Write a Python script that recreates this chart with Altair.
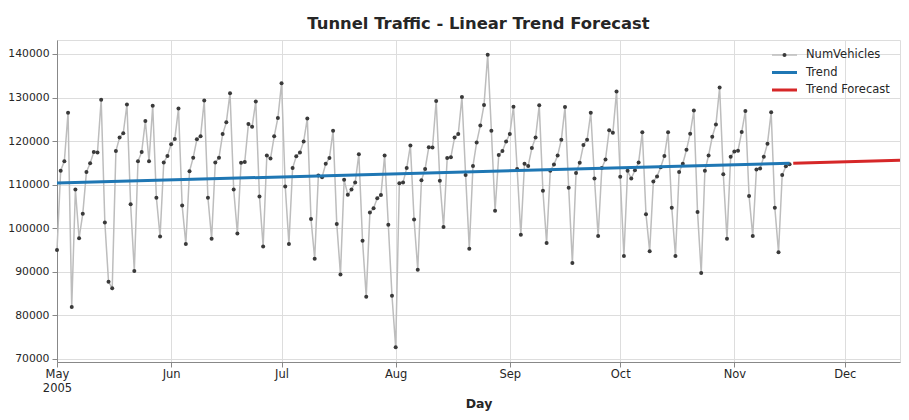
import altair as alt
import pandas as pd

# ---- data ----
start_date = "2005-05-01"
num_vehicles = [
    95000, 113200, 115400, 126500, 81900, 108900, 97700, 103300, 112900, 114900,
    117500, 117400, 129500, 101300, 87700, 86200, 117700, 120800, 121800, 128400,
    105500, 90200, 115400, 117500, 124600, 115400, 128100, 107000, 98100, 115100,
    116600, 119300, 120500, 127500, 105200, 96400, 113100, 116200, 120400, 121100,
    129300, 107000, 97600, 115100, 116200, 121600, 124300, 131000, 108900, 98800,
    115000, 115200, 123900, 123300, 129100, 107300, 95800, 116700, 116000, 121100,
    125300, 133300, 109600, 96400, 113800, 116500, 117400, 119900, 125200, 102100,
    93000, 112100, 111700, 114800, 116100, 122400, 101000, 89400, 111100, 107700,
    108900, 110500, 117000, 97100, 84300, 103600, 104600, 106900, 107600, 116700,
    100800, 84500, 72700, 110300, 110500, 113800, 119000, 102000, 90500, 111000,
    113600, 118600, 118500, 129200, 110900, 100300, 116100, 116300, 120800, 121600,
    130100, 112200, 95300, 114300, 119700, 123600, 128300, 139800, 122400, 104000,
    116800, 117700, 119900, 121600, 127900, 113600, 98500, 114800, 114300, 118400,
    120800, 128200, 108600, 96600, 113200, 114600, 116700, 120300, 127800, 109300,
    92000, 112700, 115000, 119100, 120300, 126500, 111400, 98200, 113800, 115800,
    122500, 121900, 131400, 111800, 93600, 113200, 111400, 113300, 115100, 122000,
    103200, 94700, 110700, 111900, 114000, 116600, 122000, 104700, 93600, 112900,
    114800, 118000, 121700, 127000, 103700, 89700, 113200, 116700, 121000, 123800,
    132300, 112400, 97600, 116400, 117600, 117800, 122100, 126900, 107400, 98200,
    113500, 113700, 116400, 119400, 126600, 104700, 94500, 112200, 114200, 114700,
]
trend_dates = ["2005-05-01", "2005-11-16"]
trend_values = [110400, 114900]
forecast_dates = ["2005-11-17", "2005-12-16"]
forecast_values = [114920, 115600]
month_ticks = [5, 6, 7, 8, 9, 10, 11, 12]
legend_labels = ["NumVehicles", "Trend", "Trend Forecast"]
legend_colors = ["#bdbdbd", "#1f77b4", "#d62728"]

days = pd.date_range(start_date, periods=len(num_vehicles), freq="D")
obs = pd.DataFrame({
    "Day": [d.strftime("%Y-%m-%dT00:00:00Z") for d in days],
    "value": num_vehicles,
})
trend = pd.DataFrame({"Day": [d + "T00:00:00Z" for d in trend_dates], "value": trend_values})
fc = pd.DataFrame({"Day": [d + "T00:00:00Z" for d in forecast_dates], "value": forecast_values})

xscale = alt.Scale(
    type="utc",
    domain=[alt.DateTime(year=2005, month=5, date=1, utc=True),
            alt.DateTime(year=2005, month=12, date=16, utc=True)],
)
yscale = alt.Scale(domain=[69300, 143200], nice=False, zero=False)

FONT = "DejaVu Sans"
x_axis = alt.Axis(
    values=[alt.DateTime(year=2005, month=m, date=1, utc=True) for m in month_ticks],
    labelExpr="utcFormat(datum.value, '%m') == '05' ? ['May', '2005'] : utcFormat(datum.value, '%b')",
    title="Day", labelAngle=0, labelAlign="center", labelFlush=False, labelPadding=1,
    labelLineHeight=14.5, labelBaseline="top",
    labelFont=FONT, labelFontSize=11.5, labelColor="#262626",
    titleFont=FONT, titleFontWeight="bold", titleFontSize=12.5, titleColor="#262626",
    titlePadding=3,
)
y_axis = alt.Axis(values=list(range(70000, 140001, 10000)), title=None, labelPadding=3,
                  format="d", labelFont=FONT, labelFontSize=10.8, labelColor="#262626")

X = alt.X("Day:T", scale=xscale, axis=x_axis)
Y = alt.Y("value:Q", scale=yscale, axis=y_axis)

line = alt.Chart(obs).mark_line(color=legend_colors[0], strokeWidth=1.5).encode(x=X, y=Y)
pts = alt.Chart(obs).mark_circle(color="#3a3a3a", size=16, opacity=1).encode(x=X, y=Y)
tr = alt.Chart(trend).mark_line(color=legend_colors[1], strokeWidth=3).encode(x=X, y=Y)
fcl = alt.Chart(fc).mark_line(color=legend_colors[2], strokeWidth=3).encode(x=X, y=Y)

# ---- legend (top right, inside plot) ----
one = pd.DataFrame({"a": [0]})
leg_layers = []
row_y = [15, 32.5, 50]
widths = [1.5, 3, 3]
for lab, col, yy, w in zip(legend_labels, legend_colors, row_y, widths):
    leg_layers.append(
        alt.Chart(one).mark_rule(color=col, strokeWidth=w).encode(
            x=alt.value(715), x2=alt.value(740), y=alt.value(yy))
    )
    leg_layers.append(
        alt.Chart(one).mark_text(text=lab, align="left", baseline="middle", fontSize=11.5,
                                 font=FONT, color="#262626").encode(
            x=alt.value(749), y=alt.value(yy))
    )
leg_layers.append(
    alt.Chart(one).mark_circle(color="#3a3a3a", size=16, opacity=1).encode(
        x=alt.value(727.5), y=alt.value(row_y[0]))
)

chart = alt.layer(line, pts, tr, fcl, *leg_layers).properties(
    width=843, height=322,
    title=alt.TitleParams("Tunnel Traffic - Linear Trend Forecast", fontSize=16.4,
                          font=FONT, fontWeight="bold", color="#262626", offset=8),
    autosize=alt.AutoSizeParams(type="none"),
    padding={"left": 49, "top": 32, "right": 1, "bottom": 50},
).configure_view(
    stroke="#cccccc", strokeWidth=1.25
).configure_axis(
    gridColor="#dedede", gridWidth=1, domain=False, ticks=False,
).configure(background="white")

chart.save("out.html", embed_options={"renderer": "svg", "actions": False})
